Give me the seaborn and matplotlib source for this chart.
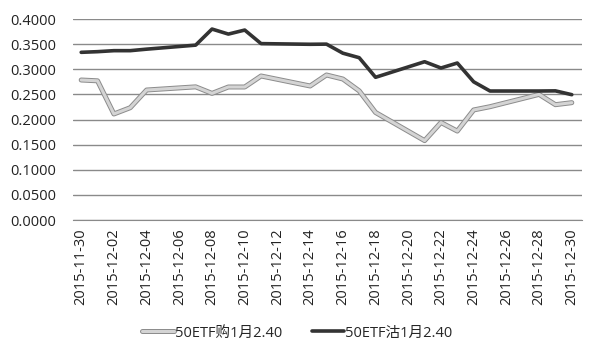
import seaborn as sns
import pandas as pd
import matplotlib.pyplot as plt
import matplotlib.dates as mdates
import matplotlib.patheffects as pe
import matplotlib.ticker as mticker

# trading days shown in the chart
dates = ['2015-11-30', '2015-12-01', '2015-12-02', '2015-12-03', '2015-12-04',
         '2015-12-07', '2015-12-08', '2015-12-09', '2015-12-10', '2015-12-11',
         '2015-12-14', '2015-12-15', '2015-12-16', '2015-12-17', '2015-12-18',
         '2015-12-21', '2015-12-22', '2015-12-23', '2015-12-24', '2015-12-25',
         '2015-12-28', '2015-12-29', '2015-12-30']

call_label = '50ETF购1月2.40'
put_label = '50ETF沽1月2.40'

call_vals = [0.2786, 0.2770, 0.2110, 0.2235, 0.2587,
             0.2650, 0.2520, 0.2647, 0.2647, 0.2866,
             0.2667, 0.2886, 0.2806, 0.2570, 0.2140,
             0.1580, 0.1940, 0.1770, 0.2190, 0.2255,
             0.2500, 0.2295, 0.2335]

put_vals = [0.3337, 0.3350, 0.3370, 0.3370, 0.3400,
            0.3480, 0.3800, 0.3700, 0.3780, 0.3510,
            0.3497, 0.3500, 0.3320, 0.3230, 0.2840,
            0.3150, 0.3025, 0.3124, 0.2750, 0.2567,
            0.2567, 0.2570, 0.2494]

df = pd.DataFrame({'date': pd.to_datetime(dates), call_label: call_vals, put_label: put_vals})

sns.set_style('white')
plt.rcParams['font.family'] = ['Open Sans', 'Noto Sans CJK SC', 'DejaVu Sans']

fig = plt.figure(figsize=(6, 3.52), dpi=100)
ax = fig.add_axes([0.1217, 0.375, 0.8483, 0.571])

# light gray line with darker outline, like the original
sns.lineplot(data=df, x='date', y=call_label, ax=ax, color='#d4d4d4', linewidth=2.2,
             label=call_label,
             path_effects=[pe.Stroke(linewidth=3.6, foreground='#8c8c8c'), pe.Normal()])
sns.lineplot(data=df, x='date', y=put_label, ax=ax, color='#333333', linewidth=2.6,
             label=put_label)

ax.set_ylim(0, 0.4)
ax.yaxis.set_major_locator(mticker.MultipleLocator(0.05))
ax.yaxis.set_major_formatter(mticker.FormatStrFormatter('%.4f'))
ax.set_xlim(pd.Timestamp('2015-11-29 12:00'), pd.Timestamp('2015-12-30 15:00'))
ax.set_xticks(pd.date_range('2015-11-30', '2015-12-30', freq='2D'))
ax.xaxis.set_major_formatter(mdates.DateFormatter('%Y-%m-%d'))
plt.setp(ax.get_xticklabels(), rotation=90)
ax.tick_params(axis='both', length=0, labelsize=10.5, colors='#222222')
ax.tick_params(axis='x', pad=6)
ax.tick_params(axis='y', pad=12)

ax.grid(axis='y', color='#8a8a8a', linewidth=1)
for s in ['left', 'right', 'top']:
    ax.spines[s].set_visible(False)
ax.spines['bottom'].set_color('#8a8a8a')
ax.set_xlabel('')
ax.set_ylabel('')

ax.legend(loc='upper center', bbox_to_anchor=(0.44, -0.46), ncol=2, frameon=False,
          fontsize=10.5, handlelength=2.2, columnspacing=2.0, handletextpad=0.1)

fig.savefig('out.png', dpi=100)
